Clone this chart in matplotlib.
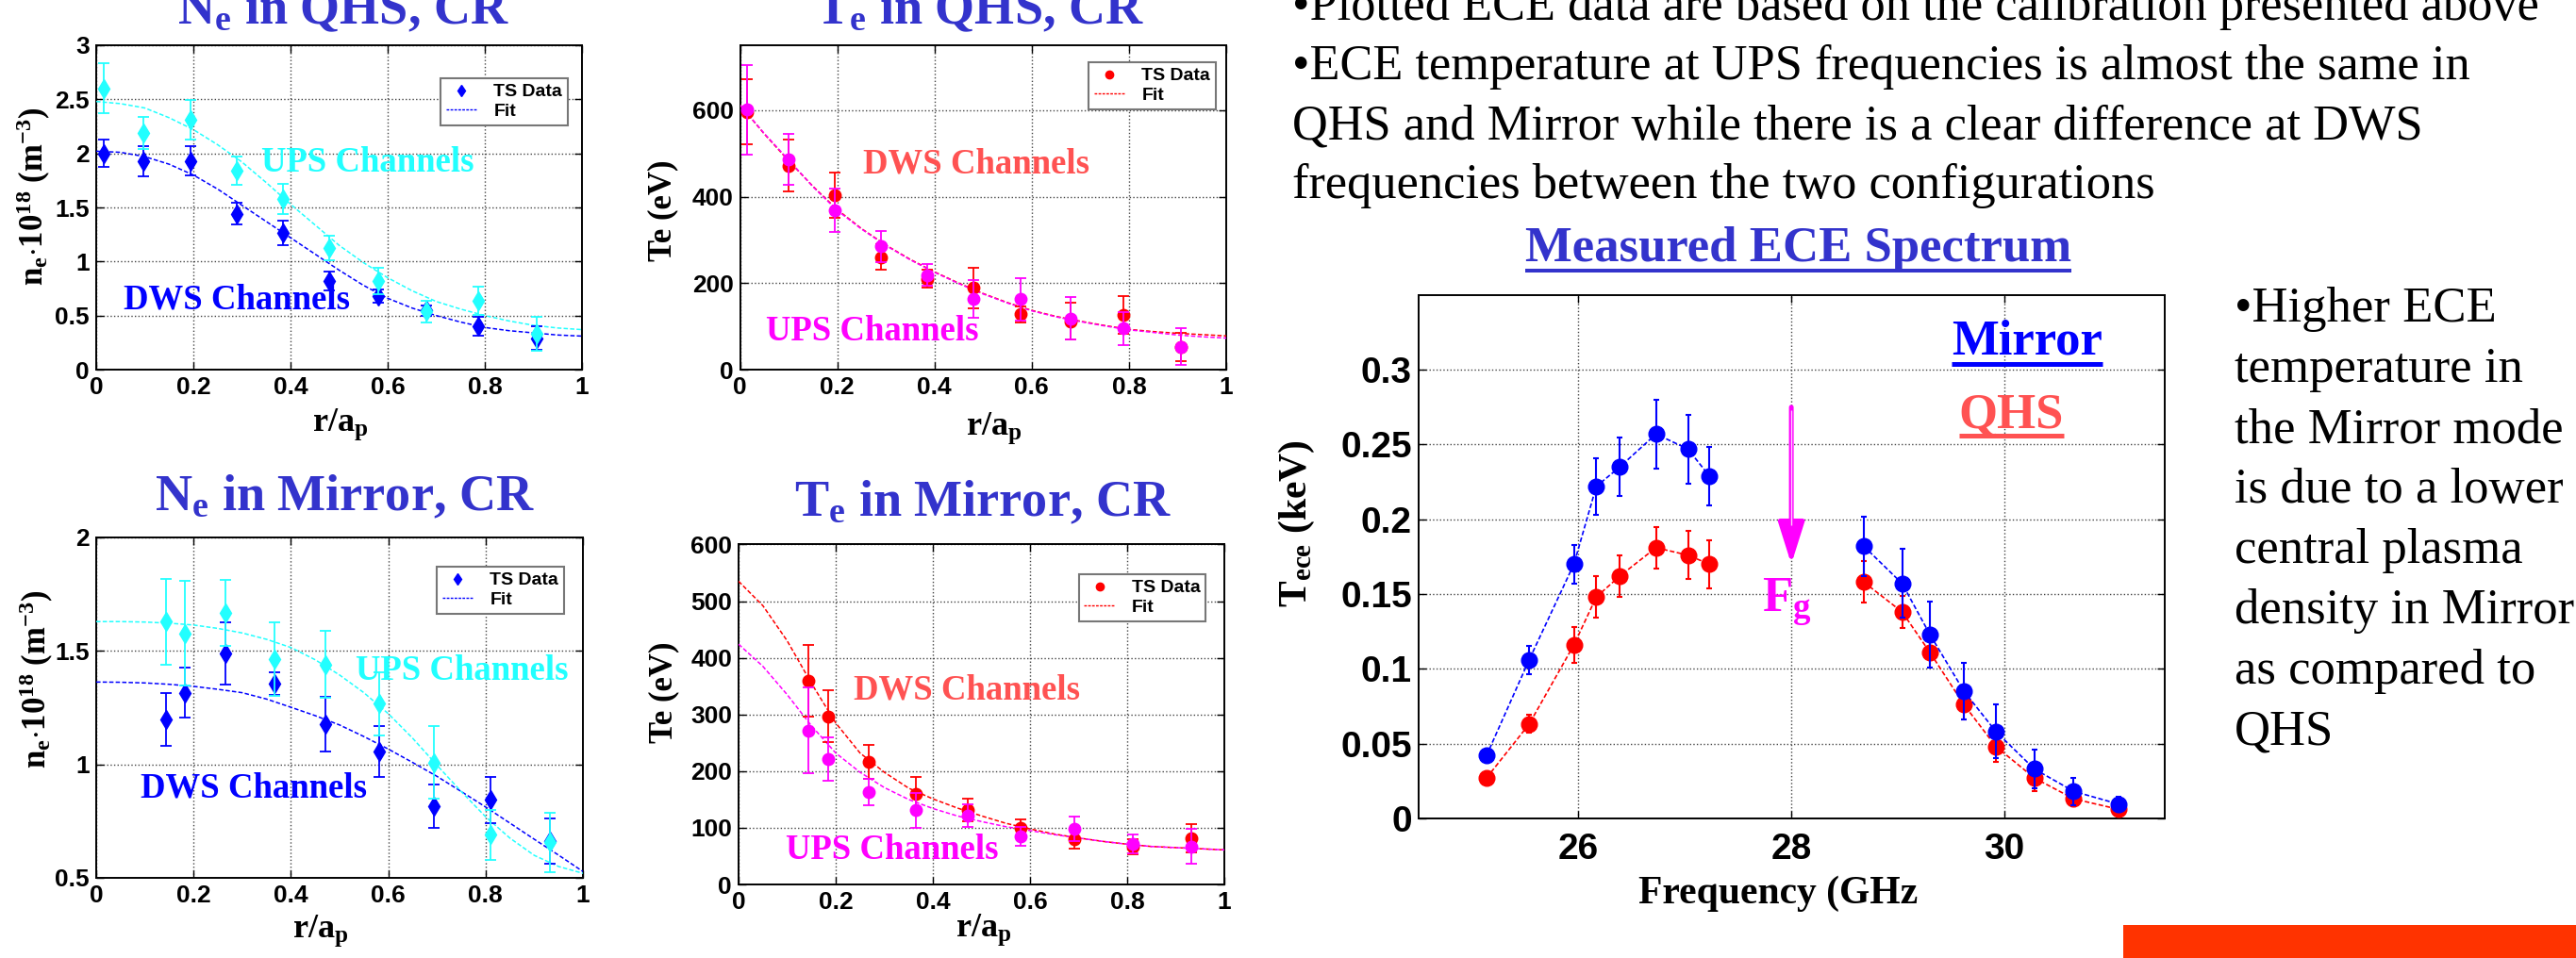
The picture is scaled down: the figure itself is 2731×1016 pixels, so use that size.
import matplotlib
matplotlib.use("Agg")
import matplotlib.pyplot as plt
from matplotlib.lines import Line2D
from matplotlib.patches import Rectangle

W, H, DPI = 2731, 1016, 100

SERIF = ['Liberation Serif', 'DejaVu Serif']
SANS = ['Liberation Sans', 'DejaVu Sans']
plt.rcParams['font.family'] = SERIF
plt.rcParams['mathtext.fontset'] = 'custom'
plt.rcParams['mathtext.rm'] = 'Liberation Serif:bold'
plt.rcParams['mathtext.it'] = 'Liberation Serif:italic:bold'
plt.rcParams['mathtext.bf'] = 'Liberation Serif:bold'

# ---------------- colours ----------------
TITLE_BLUE = '#3333CC'
DWS_BLUE = '#0000FF'
UPS_CYAN = '#22FFFF'
DWS_RED = '#FF0000'
DWS_SALMON = '#FF5252'
UPS_MAGENTA = '#FF00FF'

# ---------------- data ----------------
fit_r = [0.0, 0.05, 0.1, 0.15, 0.2, 0.25, 0.3, 0.35, 0.4, 0.45, 0.5,
         0.55, 0.6, 0.65, 0.7, 0.75, 0.8, 0.85, 0.9, 0.95, 1.0]

# Ne in QHS
ne_qhs_r = [0.015, 0.098, 0.194, 0.29, 0.385, 0.48, 0.58, 0.68, 0.787, 0.906]
ne_qhs_dws = [2.00, 1.925, 1.93, 1.44, 1.264, 0.82, 0.68, 0.547, 0.40, 0.29]
ne_qhs_dws_err = [0.125, 0.14, 0.135, 0.10, 0.115, 0.085, 0.06, 0.05, 0.09, 0.11]
ne_qhs_ups = [2.60, 2.19, 2.31, 1.84, 1.58, 1.125, 0.82, 0.54, 0.64, 0.33]
ne_qhs_ups_err = [0.23, 0.15, 0.18, 0.13, 0.14, 0.11, 0.125, 0.10, 0.13, 0.155]
ne_qhs_ups_fit = [2.48, 2.46, 2.42, 2.33, 2.22, 2.08, 1.92, 1.73, 1.53, 1.34, 1.15,
                  0.99, 0.85, 0.73, 0.63, 0.56, 0.50, 0.45, 0.41, 0.385, 0.37]
ne_qhs_dws_fit = [2.02, 2.01, 1.97, 1.90, 1.80, 1.67, 1.52, 1.37, 1.22, 1.07, 0.92,
                  0.78, 0.66, 0.57, 0.50, 0.44, 0.39, 0.36, 0.34, 0.32, 0.31]

# Te in QHS
te_qhs_r = [0.0145, 0.099, 0.194, 0.29, 0.385, 0.48, 0.578, 0.68, 0.788, 0.906]
te_qhs_dws = [596, 472, 403, 260, 210, 189, 128, 112, 126, 52]
te_qhs_dws_err = [75, 59, 52, 29, 21, 47, 18, 43, 44, 33]
te_qhs_ups = [601, 486, 369, 285, 219, 163, 163, 118, 95, 53]
te_qhs_ups_err = [103, 58, 50, 36, 25, 44, 49, 49, 38, 43]
te_qhs_dws_fit = [612, 545, 483, 424, 370, 326, 288, 255, 226, 200, 176,
                  155, 137, 123, 112, 102, 93, 88, 84, 81, 78]
te_qhs_ups_fit = [612, 546, 485, 423, 368, 325, 287, 254, 225, 199, 175,
                  154, 136, 122, 111, 101, 92, 86, 80, 76, 73]

# Ne in Mirror
ne_mir_r = [0.143, 0.182, 0.266, 0.367, 0.471, 0.581, 0.694, 0.811, 0.933]
ne_mir_dws = [1.197, 1.315, 1.487, 1.356, 1.176, 1.056, 0.816, 0.843, 0.663]
ne_mir_dws_err = [0.118, 0.11, 0.136, 0.05, 0.12, 0.113, 0.096, 0.103, 0.10]
ne_mir_ups = [1.627, 1.577, 1.667, 1.463, 1.44, 1.266, 1.008, 0.689, 0.656]
ne_mir_ups_err = [0.19, 0.23, 0.144, 0.16, 0.147, 0.14, 0.16, 0.11, 0.13]
ne_mir_ups_fit = [1.628, 1.628, 1.626, 1.621, 1.613, 1.598, 1.578, 1.550, 1.514, 1.460, 1.393,
                  1.315, 1.223, 1.115, 0.996, 0.880, 0.769, 0.675, 0.599, 0.550, 0.52]
ne_mir_dws_fit = [1.362, 1.361, 1.358, 1.352, 1.343, 1.330, 1.315, 1.287, 1.251, 1.214, 1.173,
                  1.122, 1.067, 1.008, 0.947, 0.880, 0.812, 0.741, 0.670, 0.600, 0.528]

# Te in Mirror
te_mir_r = [0.144, 0.184, 0.267, 0.366, 0.471, 0.58, 0.692, 0.811, 0.932]
te_mir_dws = [360, 297, 216, 159, 132, 100, 80, 67, 81]
te_mir_dws_err = [63, 45, 30, 30, 20, 14, 17, 13, 25]
te_mir_ups = [272, 221, 163, 131, 121, 85, 98, 72, 67]
te_mir_ups_err = [75, 38, 24, 31, 20, 16, 21, 17, 31]
te_mir_dws_fit = [535, 492, 430, 355, 285, 232, 198, 170, 151, 135, 121,
                  108, 98, 89, 82, 76, 71, 67, 65, 63, 61]
te_mir_ups_fit = [424, 385, 335, 280, 232, 198, 171, 150, 134, 121, 111,
                  102, 95, 88, 82, 76, 71, 67, 65, 63, 61]

# Measured ECE spectrum
freq_low = [25.14, 25.54, 25.96, 26.17, 26.39, 26.73, 27.03, 27.23]
freq_high = [28.68, 29.04, 29.30, 29.62, 29.92, 30.28, 30.65, 31.07]
mirror_low = [0.042, 0.106, 0.170, 0.222, 0.235, 0.257, 0.247, 0.229]
mirror_high = [0.182, 0.157, 0.123, 0.085, 0.058, 0.033, 0.018, 0.0095]
mirror_err_low = [0.004, 0.0096, 0.013, 0.019, 0.0195, 0.023, 0.023, 0.0195]
mirror_err_high = [0.02, 0.023, 0.022, 0.019, 0.018, 0.013, 0.009, 0.005]
qhs_low = [0.027, 0.063, 0.116, 0.148, 0.162, 0.181, 0.176, 0.170]
qhs_high = [0.158, 0.138, 0.111, 0.076, 0.048, 0.027, 0.013, 0.006]
qhs_err_low = [0.003, 0.006, 0.012, 0.014, 0.014, 0.014, 0.016, 0.016]
qhs_err_high = [0.014, 0.011, 0.010, 0.010, 0.010, 0.009, 0.005, 0.003]
fg_freq = 28.0
fg_arrow_top = 0.275
fg_arrow_tip = 0.17
fg_head_len = 0.024

# ticks
r_ticks = [0, 0.2, 0.4, 0.6, 0.8, 1]
ne_qhs_yticks = [0, 0.5, 1, 1.5, 2, 2.5, 3]
te_qhs_yticks = [0, 200, 400, 600]
ne_mir_yticks = [0.5, 1, 1.5, 2]
te_mir_yticks = [0, 100, 200, 300, 400, 500, 600]
ece_xticks = [26, 28, 30]
ece_yticks = [0, 0.05, 0.1, 0.15, 0.2, 0.25, 0.3]

# texts
top_lines = ["\u2022Plotted ECE data are based on the calibration presented above",
             "\u2022ECE temperature at UPS frequencies is almost the same in",
             "QHS and Mirror while there is a clear difference at DWS",
             "frequencies between the two configurations"]
right_lines = ["\u2022Higher ECE", "temperature in", "the Mirror mode",
               "is due to a lower", "central plasma", "density in Mirror",
               "as compared to", "QHS"]

# ---------------- figure ----------------
fig = plt.figure(figsize=(W / DPI, H / DPI), dpi=DPI)
fig.patch.set_facecolor('white')


def fx(x):
    return x / W


def fy(y):
    return 1 - y / H


def make_axes(l, t, r, b):
    return fig.add_axes([fx(l), fy(b), (r - l) / W, (b - t) / H])


def style_axes(ax, xlim, ylim, xticks, yticks, size, xpad=5, ypad=5):
    ax.set_xlim(*xlim)
    ax.set_ylim(*ylim)
    ax.set_xticks(xticks)
    ax.set_yticks(yticks)
    ax.set_xticklabels([f'{v:g}' for v in xticks], fontfamily=SANS,
                       fontweight='bold', fontsize=size)
    ax.set_yticklabels([f'{v:g}' for v in yticks], fontfamily=SANS,
                       fontweight='bold', fontsize=size)
    ax.tick_params(direction='in', length=6, width=1, top=True, right=True)
    ax.tick_params(axis='x', pad=xpad)
    ax.tick_params(axis='y', pad=ypad)
    ax.grid(True, ls=':', color='#444444', lw=1.0)
    ax.set_axisbelow(True)
    for s in ax.spines.values():
        s.set_linewidth(1.4)


def add_legend(ax, marker, color, x0, y0):
    handles = [Line2D([], [], ls='none', marker=marker, color=color, ms=6),
               Line2D([], [], ls=(0, (2, 1)), color=color, lw=1)]
    leg = ax.legend(handles, ['TS Data', 'Fit'], loc='upper left',
                    bbox_to_anchor=(fx(x0), fy(y0)), bbox_transform=fig.transFigure,
                    prop={'family': SANS, 'size': 14, 'weight': 'bold'},
                    frameon=True, fancybox=False,
                    edgecolor='#777777', framealpha=1, borderpad=0.3,
                    labelspacing=0.15, handlelength=1.7, handletextpad=0.9,
                    borderaxespad=0)
    leg.get_frame().set_linewidth(1.5)


def ftext(x, y, s, **kw):
    return fig.text(fx(x), fy(y), s, **kw)


EB = dict(capsize=4, elinewidth=1.3, capthick=1.3, ls='none')

# ---- Panel 1: Ne in QHS
ax1 = make_axes(102, 48, 617, 392)
ax1.plot(fit_r, ne_qhs_dws_fit, ls=(0, (3, 1.5)), color=DWS_BLUE, lw=1.1, zorder=3)
ax1.plot(fit_r, ne_qhs_ups_fit, ls=(0, (3, 1.5)), color=UPS_CYAN, lw=1.1, zorder=3)
ax1.errorbar(ne_qhs_r, ne_qhs_dws, yerr=ne_qhs_dws_err, fmt='d', color=DWS_BLUE, ms=10, zorder=4, **EB)
ax1.errorbar(ne_qhs_r, ne_qhs_ups, yerr=ne_qhs_ups_err, fmt='d', color=UPS_CYAN, ms=10, zorder=5, **EB)
style_axes(ax1, (0, 1), (0, 3), r_ticks, ne_qhs_yticks, 19)
add_legend(ax1, 'd', DWS_BLUE, 467, 83)

# ---- Panel 2: Te in QHS
ax2 = make_axes(784.5, 48, 1300, 392)
ax2.plot(fit_r, te_qhs_dws_fit, ls=(0, (3, 1.5)), color=DWS_RED, lw=1.1, zorder=3)
ax2.plot(fit_r, te_qhs_ups_fit, ls=(0, (3, 1.5)), color=UPS_MAGENTA, lw=1.1, zorder=3)
ax2.errorbar(te_qhs_r, te_qhs_dws, yerr=te_qhs_dws_err, fmt='o', color=DWS_RED, ms=9, zorder=4, **EB)
ax2.errorbar(te_qhs_r, te_qhs_ups, yerr=te_qhs_ups_err, fmt='o', color=UPS_MAGENTA, ms=9, zorder=5, **EB)
style_axes(ax2, (0, 1), (0, 750), r_ticks, te_qhs_yticks, 19)
add_legend(ax2, 'o', DWS_RED, 1154, 66)

# ---- Panel 3: Ne in Mirror
ax3 = make_axes(102, 569.6, 618, 931)
ax3.plot(fit_r, ne_mir_dws_fit, ls=(0, (3, 1.5)), color=DWS_BLUE, lw=1.1, zorder=3)
ax3.plot(fit_r, ne_mir_ups_fit, ls=(0, (3, 1.5)), color=UPS_CYAN, lw=1.1, zorder=3)
ax3.errorbar(ne_mir_r, ne_mir_dws, yerr=ne_mir_dws_err, fmt='d', color=DWS_BLUE, ms=10, zorder=4, **EB)
ax3.errorbar(ne_mir_r, ne_mir_ups, yerr=ne_mir_ups_err, fmt='d', color=UPS_CYAN, ms=10, zorder=5, **EB)
style_axes(ax3, (0, 1), (0.5, 2), r_ticks, ne_mir_yticks, 19)
add_legend(ax3, 'd', DWS_BLUE, 463, 601)

# ---- Panel 4: Te in Mirror
ax4 = make_axes(783, 577.4, 1298, 938)
ax4.plot(fit_r, te_mir_dws_fit, ls=(0, (3, 1.5)), color=DWS_RED, lw=1.1, zorder=3)
ax4.plot(fit_r, te_mir_ups_fit, ls=(0, (3, 1.5)), color=UPS_MAGENTA, lw=1.1, zorder=3)
ax4.errorbar(te_mir_r, te_mir_dws, yerr=te_mir_dws_err, fmt='o', color=DWS_RED, ms=9, zorder=4, **EB)
ax4.errorbar(te_mir_r, te_mir_ups, yerr=te_mir_ups_err, fmt='o', color=UPS_MAGENTA, ms=9, zorder=5, **EB)
style_axes(ax4, (0, 1), (0, 600), r_ticks, te_mir_yticks, 19)
add_legend(ax4, 'o', DWS_RED, 1143.5, 609)

# ---- Panel 5: ECE spectrum
ax5 = make_axes(1503.7, 312.9, 2294.5, 867.8)
EB5 = dict(capsize=2.5, elinewidth=1.5, capthick=1.5, ls='none')
for fr, q, qe in ((freq_low, qhs_low, qhs_err_low), (freq_high, qhs_high, qhs_err_high)):
    ax5.plot(fr, q, ls=(0, (3, 1.5)), color=DWS_RED, lw=1.2, zorder=3)
    ax5.errorbar(fr, q, yerr=qe, fmt='o', color=DWS_RED, ms=12, zorder=4, **EB5)
for fr, m, me in ((freq_low, mirror_low, mirror_err_low), (freq_high, mirror_high, mirror_err_high)):
    ax5.plot(fr, m, ls=(0, (3, 1.5)), color=DWS_BLUE, lw=1.2, zorder=5)
    ax5.errorbar(fr, m, yerr=me, fmt='o', color=DWS_BLUE, ms=12, zorder=6, **EB5)
style_axes(ax5, (24.5, 31.5), (0, 0.35), ece_xticks, ece_yticks, 28, xpad=11, ypad=5)
# F_g arrow: magenta double-line shaft with a filled head
ax5.annotate('', xy=(fg_freq, fg_arrow_tip), xytext=(fg_freq, fg_arrow_top),
             arrowprops=dict(arrowstyle='-|>,head_length=2.7,head_width=0.85',
                             mutation_scale=10, facecolor=UPS_MAGENTA,
                             edgecolor=UPS_MAGENTA, lw=3.6, shrinkA=0, shrinkB=0),
             zorder=7)
ax5.plot([fg_freq, fg_freq], [fg_arrow_top - 0.002, fg_arrow_tip + fg_head_len + 0.002],
         color='#FFD0FF', lw=1.0, zorder=8, solid_capstyle='butt')

# ---------------- titles & labels ----------------
TKW = dict(color=TITLE_BLUE, fontsize=39, fontweight='bold', ha='center', va='baseline')
ftext(364, 25.5, r'N$_\mathrm{e}$ in QHS, CR', **TKW)
ftext(1038.5, 25.5, r'T$_\mathrm{e}$ in QHS, CR', **TKW)
ftext(365, 541.5, r'N$_\mathrm{e}$ in Mirror, CR', **TKW)
ftext(1042, 547, r'T$_\mathrm{e}$ in Mirror, CR', **TKW)

LKW = dict(color='black', fontsize=26, fontweight='bold', ha='center', va='baseline')
ftext(361, 457, r'r/a$_\mathrm{p}$', **LKW)
ftext(1054, 461, r'r/a$_\mathrm{p}$', **LKW)
ftext(340, 994, r'r/a$_\mathrm{p}$', **LKW)
ftext(1043, 993, r'r/a$_\mathrm{p}$', **LKW)

YKW = dict(color='black', fontsize=25, fontweight='bold', ha='center', va='center', rotation=90)
ftext(36, 208, r'n$_\mathrm{e}$$\cdot$10$^{18}$ (m$^{-3}$)', **YKW)
ftext(703, 223, 'Te (eV)', **YKW)
ftext(39, 720, r'n$_\mathrm{e}$$\cdot$10$^{18}$ (m$^{-3}$)', **YKW)
ftext(704, 734, 'Te (eV)', **YKW)
ftext(1374.5, 555, r'T$_\mathrm{ece}$ (keV)', color='black', fontsize=30,
      fontweight='bold', ha='center', va='center', rotation=90)
ftext(1885, 958, 'Frequency (GHz', color='black', fontsize=30, fontweight='bold',
      ha='center', va='baseline')

CKW = dict(fontsize=26.5, fontweight='bold', ha='left', va='baseline')
ftext(277, 182, 'UPS Channels', color=UPS_CYAN, **CKW)
ftext(131, 328, 'DWS Channels', color=DWS_BLUE, **CKW)
ftext(915, 183, 'DWS Channels', color=DWS_SALMON, **CKW)
ftext(812, 361, 'UPS Channels', color=UPS_MAGENTA, **CKW)
ftext(377, 721, 'UPS Channels', color=UPS_CYAN, **CKW)
ftext(149, 845, 'DWS Channels', color=DWS_BLUE, **CKW)
ftext(905, 741.5, 'DWS Channels', color=DWS_SALMON, **CKW)
ftext(833, 911, 'UPS Channels', color=UPS_MAGENTA, **CKW)

ftext(1868, 648.5, r'F$_\mathrm{g}$', color=UPS_MAGENTA, fontsize=38,
      fontweight='bold', ha='left', va='baseline')

# body text
for i, s in enumerate(top_lines):
    ftext(1370, 21 + 63 * i, s, color='black', fontsize=37.7, ha='left', va='baseline')
for i, s in enumerate(right_lines):
    ftext(2369, 341 + 64 * i, s, color='black', fontsize=38, ha='left', va='baseline')

underlined = [
    (ftext(1617, 277, 'Measured ECE Spectrum', color=TITLE_BLUE, fontsize=38,
           fontweight='bold', ha='left', va='baseline'), 287, 4, TITLE_BLUE),
    (ftext(2069, 376, 'Mirror', color=DWS_BLUE, fontsize=38,
           fontweight='bold', ha='left', va='baseline'), 385.5, 5, DWS_BLUE),
    (ftext(2076.6, 453.7, 'QHS', color=DWS_SALMON, fontsize=38,
           fontweight='bold', ha='left', va='baseline'), 462, 5, DWS_SALMON),
]
renderer = fig.canvas.get_renderer()
for t, uy, th, c in underlined:
    bb = t.get_window_extent(renderer)
    fig.add_artist(Line2D([bb.x0 / W, bb.x1 / W], [fy(uy), fy(uy)],
                          transform=fig.transFigure, color=c, lw=th * 72 / DPI,
                          solid_capstyle='butt'))

fig.add_artist(Rectangle((fx(2251), 0), (W - 2251) / W, 35 / H,
                         transform=fig.transFigure, facecolor='#FF3300',
                         edgecolor='none'))

fig.savefig('out.png', dpi=DPI, facecolor='white')
